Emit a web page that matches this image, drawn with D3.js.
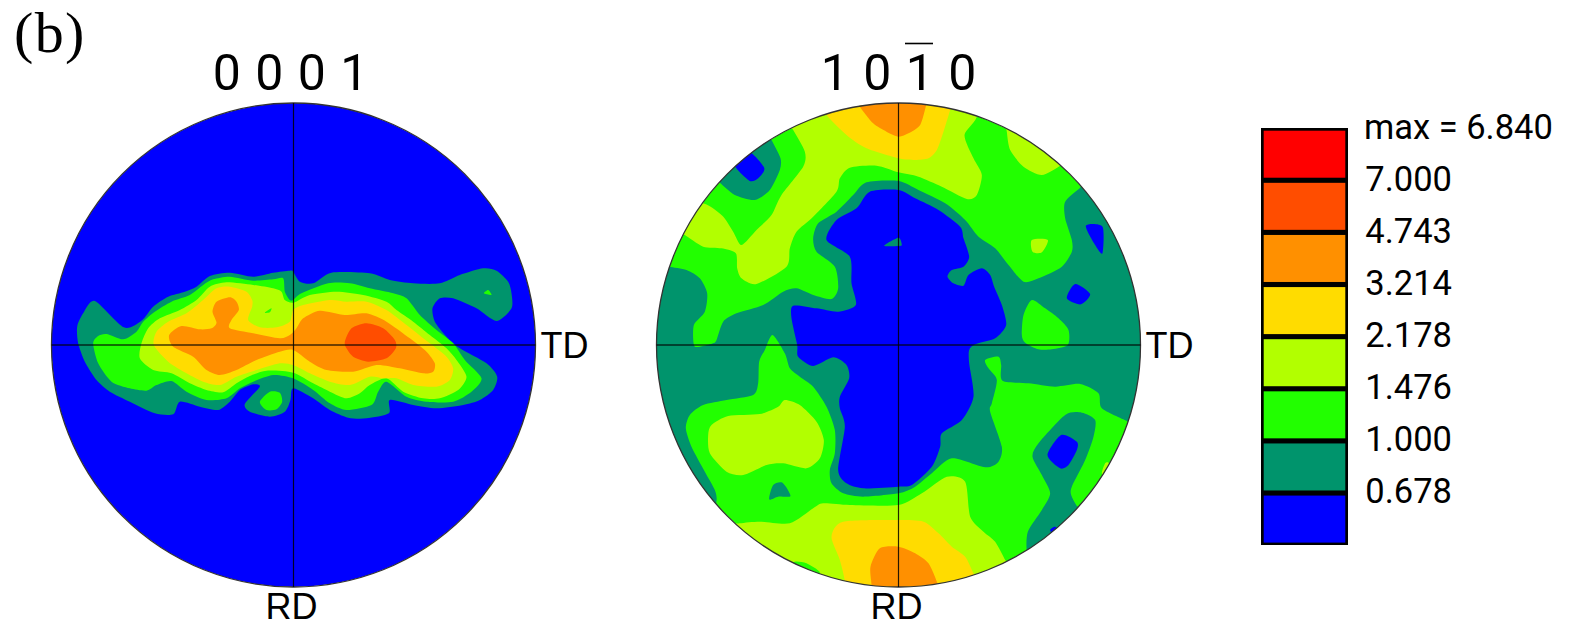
<!DOCTYPE html>
<html><head><meta charset="utf-8">
<script src="https://cdn.jsdelivr.net/npm/d3@7/dist/d3.min.js"></script>
<style>html,body{margin:0;padding:0;background:#fff;overflow:hidden}svg{display:block}text{font-family:Roboto,"Liberation Sans",Arial,sans-serif;fill:#000}</style>
</head><body><svg id="c" width="1572" height="627"></svg>
<script>
// Units: TD offset (right +), RD offset (down +); projection radius = 726.
const legendLabels = ["7.000","4.743","3.214","2.178","1.476","1.000","0.678"];
const levelNames = ["r7","r6","r5","r4","r3","r2","r1","r0"];
const levelColors = ["#ff0000","#ff4d00","#ff9000","#ffdc00","#b2ff00","#22ff00","#00946c","#0000ff"];
const maxLabel = "max = 6.840";

// --- 0001 pole figure contours
const a_teal = [[-649,-55],[-631,-95],[-596,-132],[-509,-53],[-456,-73],[-421,-115],[-376,-145],[-326,-160],[-291,-175],[-251,-207],[-191,-217],[-121,-205],[-61,-217],[-11,-223],[-1,-220],[19,-190],[59,-185],[114,-217],[229,-215],[289,-195],[359,-185],[439,-185],[499,-210],[569,-230],[609,-223],[644,-190],[654,-155],[654,-110],[609,-72],[549,-110],[479,-140],[439,-140],[417,-110],[424,-70],[459,-25],[499,10],[579,55],[611,95],[599,135],[559,165],[509,180],[429,190],[359,180],[289,165],[286,205],[219,220],[164,218],[109,195],[59,160],[-1,130],[-9,165],[-26,200],[-71,215],[-131,200],[-146,177],[-101,125],[-121,118],[-161,135],[-191,170],[-226,195],[-281,185],[-341,170],[-361,208],[-416,205],[-491,170],[-551,140],[-591,105],[-626,50],[-646,-5]];
const a_green = [[-601,-5],[-586,-27],[-561,-33],[-511,-17],[-471,-40],[-451,-70],[-416,-100],[-366,-130],[-311,-150],[-271,-180],[-241,-197],[-191,-205],[-121,-193],[-61,-197],[-31,-200],[-26,-160],[-11,-135],[-1,-135],[24,-155],[104,-185],[169,-185],[229,-170],[299,-155],[339,-140],[379,-90],[429,-45],[479,-5],[514,45],[564,100],[534,140],[479,170],[399,170],[339,155],[279,110],[254,140],[234,180],[159,195],[109,175],[59,135],[-1,100],[-61,90],[-121,110],[-161,130],[-201,160],[-261,165],[-321,140],[-366,108],[-411,120],[-441,137],[-491,130],[-546,110],[-586,55]];
const a_greenBlob = [[-101,170],[-71,140],[-41,143],[-34,170],[-51,193],[-81,195]];
const a_greenTip = [[571,-155],[584,-165],[594,-150]];
const a_lime = [[-461,40],[-456,-5],[-436,-50],[-401,-80],[-341,-105],[-291,-135],[-251,-175],[-201,-188],[-121,-180],[-61,-170],[-36,-160],[-26,-135],[0,-127],[49,-150],[129,-160],[209,-150],[279,-130],[309,-105],[359,-70],[409,-30],[459,10],[489,45],[519,95],[494,135],[439,160],[389,160],[329,140],[279,100],[229,120],[199,145],[159,160],[109,140],[59,115],[-1,83],[-81,77],[-131,93],[-171,115],[-211,142],[-261,135],[-311,115],[-366,85],[-421,75]];
const a_greenSpot = [[-86,-97],[-66,-110],[-71,-98]];
const a_yellow = [[-419,0],[-411,-40],[-376,-70],[-321,-95],[-271,-135],[-231,-170],[-191,-175],[-141,-160],[-124,-135],[-124,-115],[-136,-75],[-101,-53],[-51,-53],[-11,-70],[-1,-105],[29,-120],[109,-135],[159,-130],[219,-130],[279,-105],[339,-60],[409,-5],[459,35],[479,70],[469,105],[429,125],[359,120],[309,100],[269,100],[229,95],[169,120],[109,110],[49,85],[-1,60],[-41,55],[-111,75],[-171,95],[-221,120],[-271,110],[-321,85],[-376,50]];
const a_orange = [[-373,-30],[-336,-57],[-281,-47],[-246,-50],[-231,-67],[-243,-100],[-231,-130],[-191,-143],[-171,-130],[-164,-105],[-186,-75],[-191,-50],[-121,-35],[-41,-20],[-11,-30],[9,-50],[29,-80],[79,-103],[154,-90],[219,-95],[279,-70],[349,-20],[399,20],[424,55],[419,80],[389,85],[319,70],[249,60],[179,80],[99,75],[49,50],[-1,15],[-41,20],[-111,45],[-171,75],[-221,90],[-261,75],[-301,35],[-361,5]];
const a_red = [[154,-10],[174,-50],[219,-65],[269,-50],[304,-15],[307,10],[279,40],[224,50],[179,35],[159,10]];

// --- 10-10 pole figure contours
const b_limeTop = [[-654,-335],[-596,-425],[-531,-390],[-496,-340],[-471,-300],[-426,-345],[-381,-390],[-351,-450],[-286,-535],[-281,-580],[-316,-645],[-330,-670],[-200,-725],[0,-745],[230,-700],[198,-630],[225,-560],[250,-510],[235,-450],[205,-438],[130,-475],[60,-505],[0,-518],[-66,-538],[-146,-532],[-176,-500],[-186,-460],[-256,-385],[-306,-340],[-326,-290],[-336,-235],[-426,-183],[-471,-200],[-484,-230],[-488,-275],[-531,-290],[-586,-295],[-641,-330]];
const b_yellowTop = [[-221,-710],[-216,-690],[-156,-630],[-96,-590],[0,-560],[50,-555],[90,-560],[115,-585],[135,-640],[155,-705],[160,-730],[0,-745]];
const b_orangeTop = [[-125,-735],[-116,-715],[-76,-665],[-36,-640],[0,-625],[30,-635],[65,-660],[83,-720],[85,-735],[0,-745]];
const b_limeRim = [[325,-665],[325,-640],[335,-585],[375,-535],[430,-510],[485,-538],[500,-555],[420,-625]];
const b_limeSmall = [[400,-315],[448,-315],[430,-278],[402,-280]];
const b_limeLeft = [[-571,270],[-561,240],[-511,213],[-416,207],[-361,185],[-341,165],[-296,180],[-246,230],[-224,285],[-236,340],[-276,370],[-346,355],[-396,360],[-466,390],[-516,380],[-566,325]];
const b_limeBottom = [[-505,545],[-476,535],[-416,530],[-326,535],[-256,490],[-226,475],[-146,480],[0,480],[70,445],[145,395],[200,410],[215,515],[255,560],[290,590],[320,645],[330,670],[0,745],[-300,700]];
const b_greenRim = [[-330,665],[-311,650],[-276,655],[-236,682],[-260,705]];
const b_yellowBottom = [[-170,735],[-161,710],[-176,645],[-201,575],[-166,530],[0,525],[75,530],[120,565],[160,605],[200,635],[225,685],[235,710],[0,745]];
const b_orangeBottom = [[-85,740],[-81,720],[-84,665],[-56,610],[0,605],[50,625],[90,655],[115,710],[120,735],[0,745]];
const b_limeSliver = [[610,385],[620,355],[630,353],[645,365],[625,395]];
const b_teal = [[-706,-240],[-688,-235],[-636,-225],[-596,-200],[-574,-155],[-581,-100],[-613,-62],[-616,-20],[-611,5],[-586,3],[-556,-5],[-546,-15],[-526,-70],[-486,-95],[-406,-120],[-346,-160],[-306,-170],[-256,-150],[-201,-138],[-181,-170],[-191,-235],[-246,-280],[-256,-320],[-241,-365],[-186,-400],[-136,-450],[-96,-488],[0,-492],[60,-465],[140,-425],[200,-375],[240,-325],[290,-290],[330,-240],[375,-190],[420,-200],[490,-235],[520,-280],[520,-315],[500,-380],[500,-430],[545,-472],[565,-490],[730,-310],[770,0],[705,235],[685,228],[610,190],[600,145],[545,117],[470,125],[390,115],[312,107],[308,60],[300,35],[260,45],[270,70],[295,105],[280,175],[275,200],[310,305],[300,350],[260,367],[160,340],[100,385],[50,425],[0,445],[-106,455],[-166,445],[-201,415],[-206,375],[-191,325],[-191,255],[-216,185],[-256,125],[-296,95],[-326,70],[-341,25],[-378,-30],[-401,15],[-418,50],[-421,115],[-436,150],[-516,165],[-586,180],[-626,210],[-638,250],[-621,305],[-581,380],[-551,435],[-546,467],[-565,485],[-730,310],[-770,0]];
const b_tealLoop = [[400,640],[385,620],[388,560],[430,495],[455,445],[430,390],[402,335],[420,295],[500,210],[550,203],[590,225],[585,275],[560,345],[520,425],[518,450],[535,483],[550,497]];
const b_tealCorner = [[-546,-500],[-534,-485],[-491,-450],[-431,-435],[-386,-465],[-356,-525],[-354,-560],[-381,-615],[-395,-635]];
const b_tealTri = [[-388,463],[-376,420],[-348,413],[-324,453],[-361,455]];
const b_tealSpeck = [[-43,-298],[0,-322],[10,-300],[0,-297]];
const b_blue = [[0,-465],[-86,-460],[-126,-410],[-186,-375],[-216,-315],[-146,-265],[-141,-185],[-128,-120],[-181,-100],[-246,-110],[-316,-118],[-321,-80],[-304,0],[-301,35],[-256,63],[-196,37],[-156,60],[-148,100],[-176,155],[-176,190],[-161,245],[-181,375],[-156,415],[-106,430],[0,425],[40,420],[100,365],[125,305],[130,265],[190,225],[225,155],[212,55],[212,15],[230,-2],[290,-20],[323,-60],[310,-120],[287,-175],[275,-210],[250,-230],[210,-210],[195,-178],[165,-185],[147,-205],[160,-225],[195,-235],[212,-265],[195,-320],[185,-355],[120,-405],[50,-440]];
const b_blueCorner = [[-495,-545],[-455,-585],[-403,-532],[-421,-500],[-448,-493]];
const b_blueA = [[562,-358],[612,-355],[612,-275],[590,-300]];
const b_blueB = [[505,-140],[530,-183],[575,-153],[547,-122]];
const b_blueC = [[447,330],[488,270],[535,290],[535,315],[510,360],[485,370]];
const b_blueRim = [[455,555],[470,545],[485,560],[470,575]];
const b_greenIsland = [[375,-90],[400,-135],[440,-110],[480,-80],[510,-45],[508,0],[460,13],[420,13],[380,-7],[370,-30]];

const plots = [
  { id:"0001", cx:293.5, cy:345, base:"r0", title:"0 0 0 1", titleX:291,
    layers:[["r1",a_teal],["r2",a_green],["r2",a_greenBlob],["r2",a_greenTip],["r3",a_lime],["r2",a_greenSpot],["r4",a_yellow],["r5",a_orange],["r6",a_red]] },
  { id:"10-10", cx:898.5, cy:345, base:"r2", title:"1 0 1 0", titleX:899,
    layers:[["r3",b_limeTop],["r4",b_yellowTop],["r5",b_orangeTop],["r3",b_limeRim],["r3",b_limeSmall],["r3",b_limeLeft],["r3",b_limeBottom],["r2",b_greenRim],["r4",b_yellowBottom],["r5",b_orangeBottom],["r3",b_limeSliver],
            ["r1",b_teal],["r1",b_tealLoop],["r1",b_tealCorner],["r1",b_tealTri],["r0",b_blue],["r1",b_tealSpeck],["r0",b_blueCorner],["r0",b_blueA],["r0",b_blueB],["r0",b_blueC],["r0",b_blueRim],["r2",b_greenIsland]] }
];

const R = 242, U = 726;
const color = d3.scaleOrdinal().domain(levelNames).range(levelColors);
const svg = d3.select("#c");
const defs = svg.append("defs");

svg.append("text").attr("x",14).attr("y",52).style("font-family",'"Liberation Serif",serif').style("font-size","58px").style("letter-spacing","1.4px").text("(b)");

plots.forEach((p,i)=>{
  const x = d3.scaleLinear().domain([-U,U]).range([p.cx-R,p.cx+R]);
  const y = d3.scaleLinear().domain([-U,U]).range([p.cy-R,p.cy+R]);
  const line = d3.line().x(d=>x(d[0])).y(d=>y(d[1])).curve(d3.curveCardinalClosed.tension(0.25));
  defs.append("clipPath").attr("id","clip"+i).append("circle").attr("cx",x(0)).attr("cy",y(0)).attr("r",R);
  const g = svg.append("g");
  const inner = g.append("g").attr("clip-path",`url(#clip${i})`);
  inner.append("circle").attr("cx",x(0)).attr("cy",y(0)).attr("r",R).attr("fill",color(p.base));
  inner.selectAll("path").data(p.layers).join("path").attr("d",d=>line(d[1])).attr("fill",d=>color(d[0]));
  g.append("circle").attr("cx",x(0)).attr("cy",y(0)).attr("r",R).attr("fill","none").attr("stroke","#333").attr("stroke-width",1.3);
  g.append("line").attr("x1",x(-U)).attr("x2",x(U)).attr("y1",y(0)).attr("y2",y(0)).attr("stroke","#000").attr("stroke-opacity",.75).attr("stroke-width",1.6);
  g.append("line").attr("x1",x(0)).attr("x2",x(0)).attr("y1",y(-U)).attr("y2",y(U)).attr("stroke","#000").attr("stroke-opacity",.85).attr("stroke-width",1.2);
  g.append("text").attr("x",p.titleX).attr("y",90).attr("text-anchor","middle").style("font-size","50px").style("letter-spacing","1px").text(p.title);
  g.append("text").attr("x",x(U)+5).attr("y",p.cy+13).style("font-family",'"Liberation Sans",Arial,sans-serif').style("font-size","36px").text("TD");
  g.append("text").attr("x",x(0)-2).attr("y",619).attr("text-anchor","middle").style("font-family",'"Liberation Sans",Arial,sans-serif').style("font-size","36px").text("RD");
});
// overbar of the third Miller index
svg.append("line").attr("x1",905).attr("x2",933).attr("y1",43.5).attr("y2",43.5).attr("stroke","#000").attr("stroke-width",1.6);

// legend
const lx = 1261, lw = 87;
const band = d3.scaleBand().domain(levelNames).range([130.7,542.6]).paddingInner(0.098);
const leg = svg.append("g");
leg.append("rect").attr("x",lx).attr("y",128).attr("width",lw).attr("height",417).attr("fill","#000");
leg.selectAll("rect.b").data(levelNames).join("rect").attr("class","b")
  .attr("x",lx+2.7).attr("width",lw-5.4).attr("y",d=>band(d)).attr("height",band.bandwidth()).attr("fill",d=>color(d));
leg.append("text").attr("x",1364).attr("y",139).style("font-size","34.5px").text(maxLabel);
leg.selectAll("text.v").data(legendLabels).join("text").attr("class","v")
  .attr("x",1452).attr("text-anchor","end").attr("y",(d,i)=>band(levelNames[i])+60).style("font-size","34.5px").text(d=>d);
</script></body></html>
